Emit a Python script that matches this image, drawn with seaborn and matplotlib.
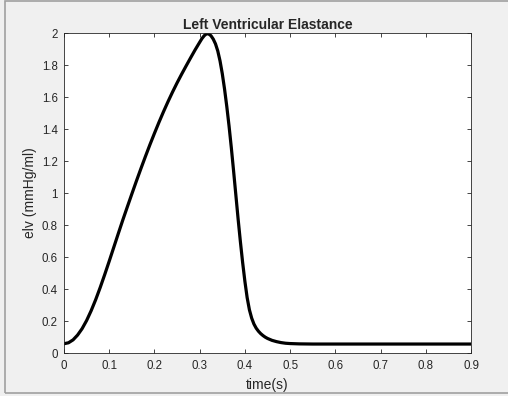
import matplotlib
matplotlib.use('Agg')
import matplotlib.pyplot as plt
import seaborn as sns
import pandas as pd
from matplotlib.patches import Rectangle

# valores: tempo (s) e elastancia (mmHg/ml)
tempo = [0.00, 0.01, 0.02, 0.03, 0.04, 0.05, 0.06, 0.07, 0.08, 0.09,
         0.10, 0.11, 0.12, 0.13, 0.14, 0.15, 0.16, 0.17, 0.18, 0.19,
         0.20, 0.21, 0.22, 0.23, 0.24, 0.25, 0.26, 0.27, 0.28, 0.29,
         0.30, 0.305, 0.31, 0.315, 0.32, 0.325, 0.33, 0.335, 0.34, 0.345,
         0.35, 0.355, 0.36, 0.365, 0.37, 0.375, 0.38, 0.385, 0.39, 0.395,
         0.40, 0.405, 0.41, 0.415, 0.42, 0.425, 0.43, 0.435, 0.44, 0.445,
         0.45, 0.46, 0.47, 0.48, 0.49, 0.50, 0.52, 0.55, 0.60, 0.70, 0.80, 0.90]
elv = [0.058, 0.064, 0.082, 0.112, 0.152, 0.203, 0.264, 0.333, 0.409, 0.490,
       0.574, 0.660, 0.746, 0.831, 0.913, 0.994, 1.074, 1.152, 1.228, 1.302,
       1.373, 1.442, 1.508, 1.571, 1.631, 1.688, 1.742, 1.794, 1.845, 1.895,
       1.942, 1.965, 1.983, 1.995, 1.994, 1.983, 1.962, 1.932, 1.888, 1.826,
       1.746, 1.650, 1.540, 1.418, 1.283, 1.138, 0.988, 0.838, 0.697, 0.566,
       0.448, 0.346, 0.270, 0.218, 0.181, 0.155, 0.136, 0.121, 0.109, 0.099,
       0.091, 0.079, 0.071, 0.065, 0.061, 0.059, 0.057, 0.056, 0.056, 0.056, 0.056, 0.056]

xticks = [0, 0.1, 0.2, 0.3, 0.4, 0.5, 0.6, 0.7, 0.8, 0.9]
xticklabels = ['0', '0.1', '0.2', '0.3', '0.4', '0.5', '0.6', '0.7', '0.8', '0.9']
yticks = [0, 0.2, 0.4, 0.6, 0.8, 1.0, 1.2, 1.4, 1.6, 1.8, 2.0]
yticklabels = ['0', '0.2', '0.4', '0.6', '0.8', '1', '1.2', '1.4', '1.6', '1.8', '2']

df = pd.DataFrame({'tempo': tempo, 'elv': elv})

sns.set_style('ticks')
plt.rcParams['font.family'] = ['Liberation Sans', 'DejaVu Sans']

fig = plt.figure(figsize=(5.08, 3.96), dpi=100, facecolor='#f0f0f0')
# moldura da janela
fig.patches.append(Rectangle((5 / 508, 3 / 396), 1.2, 392 / 396, transform=fig.transFigure,
                             fill=False, edgecolor='#a0a0a0', linewidth=1.2))
ax = fig.add_axes([64 / 508, 43 / 396, 407 / 508, 320 / 396])
ax.set_facecolor('white')

sns.lineplot(data=df, x='tempo', y='elv', ax=ax, color='black', linewidth=2.3)

ax.set_xlim(0, 0.9)
ax.set_ylim(0, 2)
ax.set_xticks(xticks)
ax.set_xticklabels(xticklabels)
ax.set_yticks(yticks)
ax.set_yticklabels(yticklabels)
ax.tick_params(direction='in', length=3, width=0.6, color='#262626', labelsize=8.3,
               labelcolor='#262626', top=True, right=True)
ax.tick_params(axis='x', pad=5)
ax.tick_params(axis='y', pad=4.5)
for s in ax.spines.values():
    s.set_visible(True)
    s.set_color('#262626')
    s.set_linewidth(0.6)

ax.set_title('Left Ventricular Elastance', fontsize=10, fontweight='bold', pad=3)
ax.set_xlabel('time(s)', fontsize=10, color='#262626', labelpad=4)
ax.set_ylabel('elv (mmHg/ml)', fontsize=10, color='#262626', labelpad=3)

plt.savefig('out.png', dpi=100, facecolor=fig.get_facecolor())
